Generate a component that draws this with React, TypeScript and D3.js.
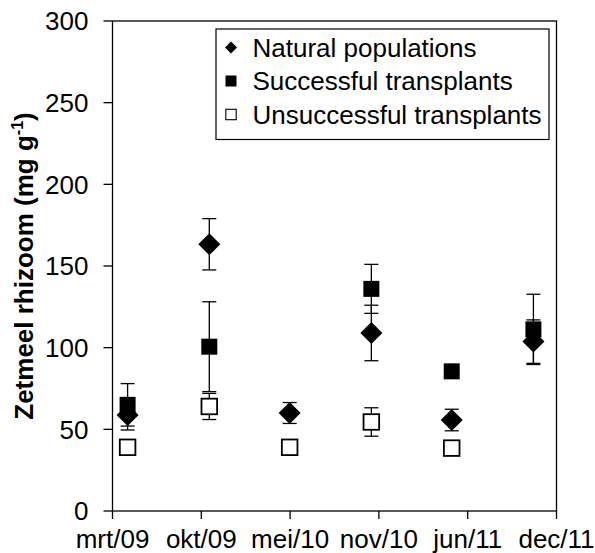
import React from "react";
import * as d3 from "d3";

const sampleDates = ["2009-05-01", "2009-11-01", "2010-05-01", "2010-11-01", "2011-05-01", "2011-11-01"];
const tickLabels = ["mrt/09", "okt/09", "mei/10", "nov/10", "jun/11", "dec/11"];
const yTicks = [0, 50, 100, 150, 200, 250, 300];

const naturalVals: (number | null)[] = [58.8, 163.3, 60, 109, 55.7, 103.7];
const naturalErr: (number | null)[] = [9.2, 15.7, 6.4, 17, 6.6, 13.3];
const successVals: (number | null)[] = [65, 100.6, null, 136, 85.5, 111.2];
const successErr: (number | null)[] = [13, 27.5, null, 15, null, 21.5];
const failVals: (number | null)[] = [39, 64, 39, 54.5, 38.5, null];
const failErr: (number | null)[] = [null, 8, null, 8.7, null, null];

const seriesNames = ["Natural populations", "Successful transplants", "Unsuccessful transplants"];

const W = 595, H = 553;
const L = 112.5, R = 556.5, T = 21, B = 511;
const DAY = 864e5;
const axisStart = Date.UTC(2009, 2, 28);
const tickStep = 200;
const FONT = "'Liberation Sans', Arial, sans-serif";

export default function App() {
  const x = d3.scaleUtc().domain([new Date(axisStart), new Date(axisStart + 5 * tickStep * DAY)]).range([L, R]);
  const y = d3.scaleLinear().domain([0, 300]).range([B, T]);
  const xTicks = d3.range(tickLabels.length).map((k) => new Date(axisStart + k * tickStep * DAY));
  const dates = sampleDates.map((s) => new Date(s + "T00:00:00Z"));

  const errBars = (vals: (number | null)[], errs: (number | null)[], key: string) =>
    vals.map((v, i) => {
      const e = errs[i];
      if (v == null || e == null || e <= 0) return null;
      const cx = x(dates[i]);
      const y1 = y(v + e), y2 = y(v - e);
      return (
        <g key={key + i} stroke="#000" strokeWidth={1.3}>
          <line x1={cx} x2={cx} y1={y1} y2={y2} />
          <line x1={cx - 7} x2={cx + 7} y1={y1} y2={y1} />
          <line x1={cx - 7} x2={cx + 7} y1={y2} y2={y2} />
        </g>
      );
    });

  const diamond = (cx: number, cy: number, r: number) =>
    `M${cx},${cy - r}L${cx + r},${cy}L${cx},${cy + r}L${cx - r},${cy}Z`;

  const legendX = 231, legendRows = [47.5, 81, 114.5];

  return (
    <svg width={W} height={H} style={{ position: "absolute", left: 0, top: 0, display: "block", background: "#fff" }} fontFamily={FONT}>
      <rect x={0} y={0} width={W} height={H} fill="#fff" />
      {/* plot frame */}
      <rect x={L} y={T} width={R - L} height={B - T} fill="none" stroke="#000" strokeWidth={1.3} />
      {/* y ticks */}
      {yTicks.map((t) => (
        <g key={"y" + t}>
          <line x1={L - 9} x2={L} y1={y(t)} y2={y(t)} stroke="#000" strokeWidth={1.3} />
          <text x={88.5} y={y(t)} dy="0.36em" textAnchor="end" fontSize={26} fill="#000">{t}</text>
        </g>
      ))}
      {/* x ticks */}
      {xTicks.map((d, i) => (
        <g key={"x" + i}>
          <line x1={x(d)} x2={x(d)} y1={B} y2={B + 8} stroke="#000" strokeWidth={1.3} />
          <text x={x(d)} y={548} textAnchor="middle" fontSize={26} fill="#000">{tickLabels[i]}</text>
        </g>
      ))}
      {/* y label */}
      <text transform={`translate(33,${(T + B) / 2}) rotate(-90)`} textAnchor="middle" fontSize={26} fontWeight="bold" fill="#000">
        Zetmeel rhizoom (mg g<tspan dy="-10" fontSize={16}>-1</tspan><tspan dy="10">)</tspan>
      </text>
      {/* error bars */}
      {errBars(naturalVals, naturalErr, "ne")}
      {errBars(successVals, successErr, "se")}
      {errBars(failVals, failErr, "fe")}
      {/* markers */}
      {successVals.map((v, i) =>
        v == null ? null : <rect key={"s" + i} x={x(dates[i]) - 8} y={y(v) - 8} width={16} height={16} fill="#000" />
      )}
      {naturalVals.map((v, i) =>
        v == null ? null : <path key={"n" + i} d={diamond(x(dates[i]), y(v), 11)} fill="#000" />
      )}
      {failVals.map((v, i) =>
        v == null ? null : (
          <rect key={"f" + i} x={x(dates[i]) - 7.8} y={y(v) - 7.8} width={15.6} height={15.6} fill="#fff" stroke="#000" strokeWidth={1.8} />
        )
      )}
      {/* legend */}
      <rect x={216} y={29} width={333} height={110.5} fill="#fff" stroke="#000" strokeWidth={1.2} />
      <path d={diamond(legendX, legendRows[0], 6)} fill="#000" />
      <rect x={legendX - 5.5} y={legendRows[1] - 5.5} width={11} height={11} fill="#000" />
      <rect x={legendX - 5.2} y={legendRows[2] - 5.2} width={10.4} height={10.4} fill="#fff" stroke="#000" strokeWidth={1.1} />
      {seriesNames.map((n, i) => (
        <text key={n} x={252.5} y={legendRows[i]} dy="0.36em" fontSize={26} fill="#000">{n}</text>
      ))}
    </svg>
  );
}
